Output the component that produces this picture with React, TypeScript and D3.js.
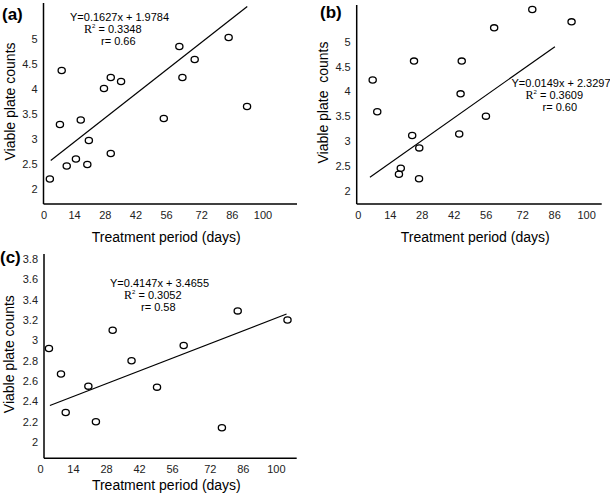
import React from "react";
import { scaleLinear } from "d3";

// tick labels
const xTicks = [0, 14, 28, 42, 56, 72, 86, 100];
const yTicksAB = [2, 2.5, 3, 3.5, 4, 4.5, 5];
const yTicksC = [2, 2.2, 2.4, 2.6, 2.8, 3, 3.2, 3.4, 3.6, 3.8];

// panel (a)
const aDays = [2.7, 8.1, 7.3, 10.4, 14.6, 16.8, 19.8, 20.5, 27.4, 30.5, 30.5, 35.2, 54.7, 61.8, 63.2, 68.8, 84.3, 92.7];
const aCounts = [2.2, 4.37, 3.29, 2.46, 2.6, 3.38, 2.49, 2.97, 4.01, 4.23, 2.71, 4.15, 3.41, 4.85, 4.23, 4.59, 5.03, 3.65];
const aFitX = [3.1, 92.8];
const aFitY = [2.57, 5.65];
const aEq = ["Y=0.1627x + 1.9784", "0.3348", "0.66"];

// panel (b)
const bDays = [6.3, 8.3, 17.8, 18.6, 23.6, 24.4, 26.7, 26.6, 44.2, 44.8, 45.3, 55.9, 59.5, 76.2, 93.4];
const bCounts = [4.23, 3.59, 2.33, 2.45, 3.11, 4.61, 2.86, 2.24, 3.14, 3.95, 4.61, 3.5, 5.28, 5.65, 5.4];
const bFitX = [5.1, 86.1];
const bFitY = [2.27, 4.9];
const bEq = ["Y=0.0149x + 2.3297", "0.3609", "0.60"];

// panel (c)
const cDays = [3.6, 8.7, 10.7, 20.3, 23.5, 30.6, 38.6, 49.4, 60.7, 76.9, 83.6, 104.7];
const cCounts = [2.92, 2.67, 2.29, 2.55, 2.2, 3.1, 2.8, 2.54, 2.95, 2.14, 3.29, 3.2];
const cFitX = [4.0, 104.3];
const cFitY = [2.36, 3.26];
const cEq = ["Y=0.4147x + 3.4655", "0.3052", "0.58"];

const FONT = "Liberation Sans, Arial, sans-serif";

type PanelProps = {
  tag: string;
  days: number[];
  counts: number[];
  fitX: number[];
  fitY: number[];
  eq: string[];
  yTicks: number[];
  xDomain: [number, number];
  yDomain: [number, number];
  left: number;
  right: number;
  top: number;
  bottom: number;
  tagPos: [number, number];
  eqPos: [number, number];
  yTitleX: number;
  yTitle: string;
  xTitleY: number;
};

function Panel(p: PanelProps) {
  const x = scaleLinear().domain(p.xDomain).range([p.left, p.right]);
  const y = scaleLinear().domain(p.yDomain).range([p.bottom, p.top]);
  const midY = (p.top + p.bottom) / 2 - 2;
  const [ex, ey] = p.eqPos;
  return (
    <g>
      <text x={p.tagPos[0]} y={p.tagPos[1]} fontFamily={FONT} fontWeight="bold" fontSize={17}>
        {p.tag}
      </text>
      {/* axes */}
      <line x1={p.left} x2={p.left} y1={p.top} y2={p.bottom} stroke="#000" strokeWidth={1.5} />
      <line x1={p.left} x2={p.right} y1={p.bottom} y2={p.bottom} stroke="#000" strokeWidth={1.5} />
      {xTicks.map((t) => (
        <text key={t} x={x(t)} y={p.bottom + 15} textAnchor="middle" fontFamily={FONT} fontSize={11} fill="#222">
          {t}
        </text>
      ))}
      {p.yTicks.map((t) => (
        <text key={t} x={p.left - 6} y={y(t) + 4} textAnchor="end" fontFamily={FONT} fontSize={11} fill="#222">
          {String(t)}
        </text>
      ))}
      <text x={(p.left + p.right) / 2 - 4} y={p.xTitleY} textAnchor="middle" fontFamily={FONT} fontSize={14}>
        Treatment period (days)
      </text>
      <text
        transform={`translate(${p.yTitleX},${midY}) rotate(-90)`}
        textAnchor="middle"
        fontFamily={FONT}
        fontSize={14}
        style={{ whiteSpace: "pre" }}
      >
        {p.yTitle}
      </text>
      {/* fit line */}
      <line x1={x(p.fitX[0])} y1={y(p.fitY[0])} x2={x(p.fitX[1])} y2={y(p.fitY[1])} stroke="#000" strokeWidth={1.2} />
      {/* points */}
      {p.days.map((d, i) => (
        <ellipse key={i} cx={x(d)} cy={y(p.counts[i])} rx={3.6} ry={3.1} fill="none" stroke="#000" strokeWidth={1.3} />
      ))}
      {/* equation */}
      <text x={ex} y={ey} fontFamily={FONT} fontSize={11}>
        {p.eq[0]}
      </text>
      <text x={ex + 14} y={ey + 12} fontFamily={FONT} fontSize={11}>
        <tspan fontFamily="Liberation Serif, Times New Roman, serif" fontSize={12}>R</tspan>
        <tspan fontSize={6} dy={-5}>2</tspan>
        <tspan dy={5}>{" = " + p.eq[1]}</tspan>
      </text>
      <text x={ex + 31} y={ey + 24} fontFamily={FONT} fontSize={11}>
        {"r= " + p.eq[2]}
      </text>
    </g>
  );
}

export default function App() {
  return (
    <svg width={610} height={493} style={{ position: "fixed", left: 0, top: 0, background: "#fff" }}>
      <Panel
        tag="(a)"
        days={aDays}
        counts={aCounts}
        fitX={aFitX}
        fitY={aFitY}
        eq={aEq}
        yTicks={yTicksAB}
        xDomain={[-0.2, 115.5]}
        yDomain={[1.7, 5.72]}
        left={43.5}
        right={297}
        top={3}
        bottom={204}
        tagPos={[2, 20]}
        eqPos={[70, 21]}
        yTitleX={15}
        yTitle="Viable plate counts"
        xTitleY={242}
      />
      <Panel
        tag="(b)"
        days={bDays}
        counts={bCounts}
        fitX={bFitX}
        fitY={bFitY}
        eq={bEq}
        yTicks={yTicksAB}
        xDomain={[-0.7, 106.6]}
        yDomain={[1.73, 5.74]}
        left={356.7}
        right={601.7}
        top={5}
        bottom={204}
        tagPos={[320, 18]}
        eqPos={[511.5, 86.5]}
        yTitleX={328}
        yTitle="Viable plate  counts"
        xTitleY={242}
      />
      <Panel
        tag="(c)"
        days={cDays}
        counts={cCounts}
        fitX={cFitX}
        fitY={cFitY}
        eq={cEq}
        yTicks={yTicksC}
        xDomain={[1.5, 108.6]}
        yDomain={[1.84, 3.85]}
        left={44}
        right={296.7}
        top={254}
        bottom={458.3}
        tagPos={[0, 263]}
        eqPos={[110, 287]}
        yTitleX={14}
        yTitle="Viable plate counts"
        xTitleY={490}
      />
    </svg>
  );
}
